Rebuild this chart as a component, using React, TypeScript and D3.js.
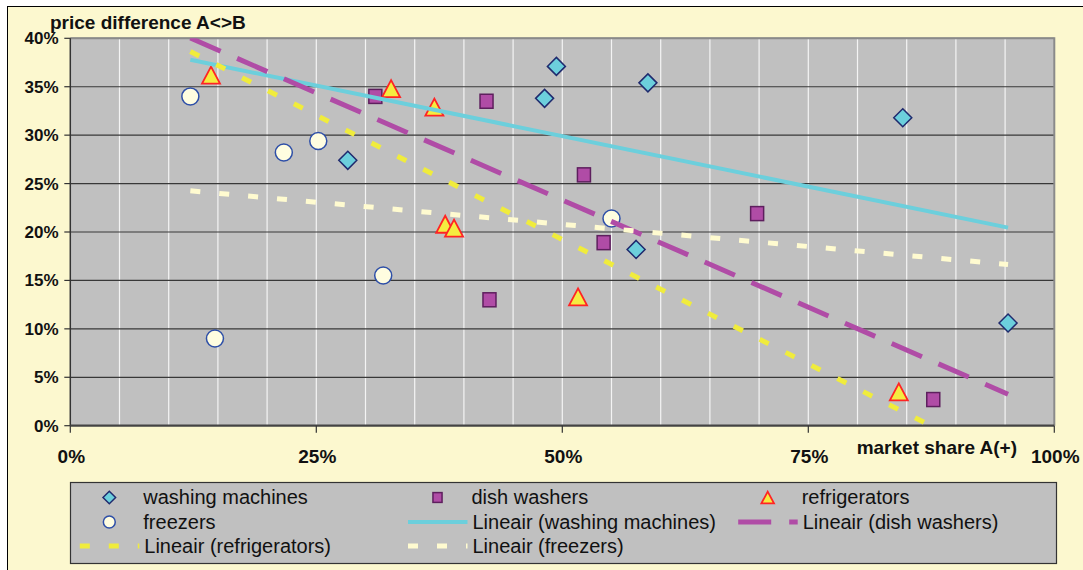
import * as d3 from 'd3';

// market share A (%) / price difference A<>B (%)
const washingMachines: [number, number][] = [
  [28.2, 27.4], [49.4, 37.1], [48.2, 33.8], [58.7, 35.4], [57.5, 18.2], [84.6, 31.8], [95.3, 10.6],
];
const dishWashers: [number, number][] = [
  [31.0, 34.0], [42.3, 33.5], [42.6, 13.0], [52.2, 25.9], [54.2, 18.9], [69.8, 21.9], [87.7, 2.7],
];
const refrigerators: [number, number][] = [
  [14.3, 36.2], [32.6, 34.8], [37.0, 32.9], [38.1, 20.8], [39.0, 20.4], [51.6, 13.3], [84.2, 3.5],
];
const freezers: [number, number][] = [
  [12.2, 34.0], [21.7, 28.2], [25.2, 29.4], [31.8, 15.5], [14.7, 9.0], [55.0, 21.4],
];

const seriesNames = ['washing machines', 'dish washers', 'refrigerators', 'freezers'];
const trendPrefix = 'Lineair';
const xTitle = 'market share A(+)';
const yTitle = 'price difference A<>B';
const xTickLabels = [0, 25, 50, 75, 100];
const yTickLabels = [0, 5, 10, 15, 20, 25, 30, 35, 40];

const W = 1083;
const H = 570;
const FONT = '"Liberation Sans", Arial, sans-serif';

const x = d3.scaleLinear().domain([0, 100]).range([70.3, 1054.3]);
const y = d3.scaleLinear().domain([0, 40]).range([425.7, 38.3]);

type Style = { fill: string; stroke: string; line: string; width: number; dash?: string };
const styles: Style[] = [
  { fill: '#6ccfdc', stroke: '#1f2a6e', line: '#6ccfdc', width: 4 },
  { fill: '#b04ca6', stroke: '#5e1f5e', line: '#b04ca6', width: 5, dash: '33 18' },
  { fill: '#f5ec40', stroke: '#ff2424', line: '#f0ec3c', width: 5, dash: '10 19' },
  { fill: '#fffde0', stroke: '#2e4fa8', line: '#fffbd0', width: 5, dash: '10 19' },
];

function fit(pts: [number, number][]) {
  const mx = d3.mean(pts, p => p[0])!;
  const my = d3.mean(pts, p => p[1])!;
  let sxy = 0, sxx = 0;
  pts.forEach(([a, b]) => { sxy += (a - mx) * (b - my); sxx += (a - mx) * (a - mx); });
  const slope = sxy / sxx;
  return (v: number) => my + slope * (v - mx);
}

function Marker({ kind, cx, cy, s }: { kind: number; cx: number; cy: number; s: number }) {
  const st = styles[kind];
  if (kind === 0) {
    const h = 9 * s;
    return <path d={`M${cx},${cy - h}L${cx + h},${cy}L${cx},${cy + h}L${cx - h},${cy}Z`} fill={st.fill} stroke={st.stroke} strokeWidth={1.5} />;
  }
  if (kind === 1) {
    const w = 13 * s, hh = 14 * s;
    return <rect x={cx - w / 2} y={cy - hh / 2} width={w} height={hh} fill={st.fill} stroke={st.stroke} strokeWidth={1.5} />;
  }
  if (kind === 2) {
    const w = 9 * s, hh = 8.5 * s;
    return <path d={`M${cx},${cy - hh}L${cx + w},${cy + hh}L${cx - w},${cy + hh}Z`} fill={st.fill} stroke={st.stroke} strokeWidth={1.8} />;
  }
  return <circle cx={cx} cy={cy} r={8.5 * s} fill={st.fill} stroke={st.stroke} strokeWidth={1.5} />;
}

export default function App() {
  const series = [washingMachines, dishWashers, refrigerators, freezers];
  const allX = series.flat().map(p => p[0]);
  const [x0, x1] = d3.extent(allX) as [number, number];
  const line = d3.line<number>().x(v => x(v));

  const [px0, px1] = x.range();
  const [py0, py1] = [y(40), y(0)];

  const legendCols = [109.3, 437.5, 767.7];
  const legendRows = [497.5, 522, 546];
  const entries = [
    ...seriesNames.map((n, i) => ({ label: n, kind: i, trend: false })),
    ...seriesNames.map((n, i) => ({ label: `${trendPrefix} (${n})`, kind: i, trend: true })),
  ];

  return (
    <svg width={W} height={H} style={{ position: 'absolute', left: 0, top: 0, background: '#fff' }} fontFamily={FONT}>
      <defs>
        <clipPath id="plot">
          <rect x={px0} y={py0} width={px1 - px0} height={py1 - py0} />
        </clipPath>
      </defs>
      <rect x={7.5} y={6.5} width={W + 10} height={H + 10} fill="#fcf8cf" stroke="#000" strokeWidth={1} />

      {/* plot area */}
      <rect x={px0} y={py0} width={px1 - px0} height={py1 - py0} fill="#c0c0c0" />
      {x.ticks(20).filter(t => t > 0 && t < 100).map(t => (
        <line key={`vx${t}`} x1={x(t)} x2={x(t)} y1={py0} y2={py1} stroke="#f4f4f4" strokeWidth={1.2} />
      ))}
      {yTickLabels.filter(t => t > 0).map(t => (
        <line key={`hy${t}`} x1={px0} x2={px1} y1={y(t)} y2={y(t)} stroke="#383838" strokeWidth={1.2} />
      ))}
      <path d={`M${px0},${py0}H${px1}V${py1}`} fill="none" stroke="#8a8a8a" strokeWidth={2} />

      {/* axes */}
      <line x1={px0} x2={px0} y1={py0} y2={py1} stroke="#333" strokeWidth={1.5} />
      <line x1={px0} x2={px1} y1={py1} y2={py1} stroke="#444" strokeWidth={2.2} />
      {yTickLabels.map(t => (
        <g key={`yt${t}`}>
          <line x1={px0 - 6} x2={px0} y1={y(t)} y2={y(t)} stroke="#333" strokeWidth={1.2} />
          <text x={58.5} y={y(t) + 6} textAnchor="end" fontSize={17} fontWeight="bold" fill="#111">{`${t}%`}</text>
        </g>
      ))}
      {xTickLabels.map(t => (
        <g key={`xt${t}`}>
          <line x1={x(t)} x2={x(t)} y1={py1} y2={py1 + 7} stroke="#333" strokeWidth={1.2} />
          <text x={x(t) + 1} y={462.5} textAnchor="middle" fontSize={19} fontWeight="bold" fill="#111">{`${t}%`}</text>
        </g>
      ))}
      <text x={50} y={29} fontSize={19} fontWeight="bold" fill="#111">{yTitle}</text>
      <text x={1017} y={454} textAnchor="end" fontSize={19} fontWeight="bold" fill="#111">{xTitle}</text>

      {/* markers */}
      {series.map((pts, k) => pts.map((p, i) => (
        <Marker key={`m${k}-${i}`} kind={k} cx={x(p[0])} cy={y(p[1])} s={1} />
      )))}

      {/* linear trendlines */}
      <g clipPath="url(#plot)">
        {series.map((pts, k) => {
          const f = fit(pts);
          const st = styles[k];
          return (
            <path key={`t${k}`} d={line.y(v => y(f(v)))([x0, x1]) || ''} fill="none"
              stroke={st.line} strokeWidth={st.width} strokeDasharray={st.dash} />
          );
        })}
      </g>

      {/* legend */}
      <rect x={70.5} y={482.5} width={986} height={81} fill="#c0c0c0" stroke="#333" strokeWidth={1.2} />
      {entries.map((e, i) => {
        const cx = legendCols[i % 3];
        const cy = legendRows[Math.floor(i / 3)];
        const st = styles[e.kind];
        return (
          <g key={`lg${i}`}>
            {e.trend
              ? <line x1={cx - 29.5} x2={cx + 30} y1={cy} y2={cy} stroke={st.line} strokeWidth={st.width} strokeDasharray={st.dash} />
              : <Marker kind={e.kind} cx={cx} cy={cy} s={0.7} />}
            <text x={cx + (e.trend ? 35 : 34)} y={cy + 6.5} fontSize={20} fill="#111">{e.label}</text>
          </g>
        );
      })}
    </svg>
  );
}
